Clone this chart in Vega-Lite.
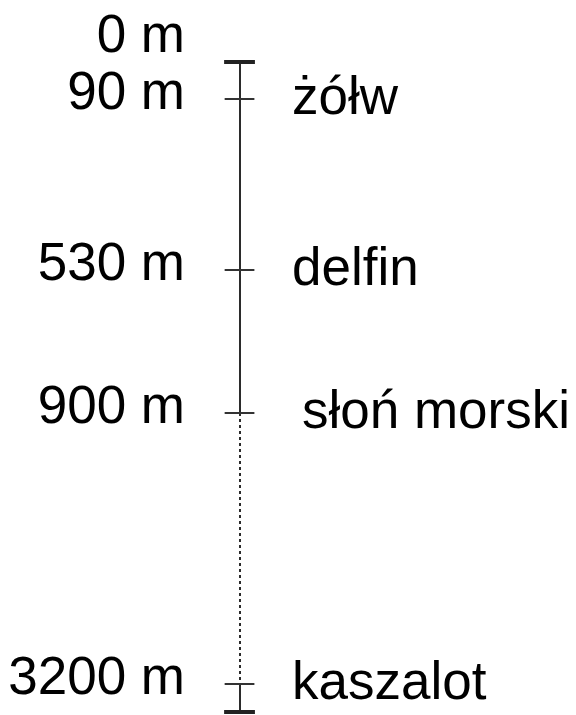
{
  "$schema": "https://vega.github.io/schema/vega-lite/v6.json",
  "width": 576,
  "height": 715,
  "padding": 0,
  "autosize": {"type": "fit", "contains": "padding"},
  "background": "white",
  "config": {"view": {"stroke": null}},
  "data": {
    "values": [
      {"depth": 0, "label": "0 m", "animal": ""},
      {"depth": 90, "label": "90 m", "animal": "żółw"},
      {"depth": 530, "label": "530 m", "animal": "delfin"},
      {"depth": 900, "label": "900 m", "animal": "słoń morski"},
      {"depth": 3200, "label": "3200 m", "animal": "kaszalot"}
    ]
  },
  "encoding": {
    "y": {
      "field": "depth",
      "type": "quantitative",
      "scale": {"domain": [0, 90, 530, 900, 3200, 3400], "range": [62, 99, 270, 413, 684, 712], "nice": false, "zero": false},
      "axis": null
    }
  },
  "layer": [
    {
      "mark": {"type": "rule", "color": "#2b2b2b", "strokeWidth": 2},
      "encoding": {
        "x": {"datum": 0, "type": "quantitative", "scale": {"domain": [-242, 334], "range": [0, 576]}, "axis": null},
        "y": {"datum": 0, "type": "quantitative"},
        "y2": {"datum": 900}
      }
    },
    {
      "mark": {"type": "rule", "color": "#2b2b2b", "strokeWidth": 2, "strokeDash": [3, 3]},
      "encoding": {
        "x": {"datum": 0, "type": "quantitative"},
        "y": {"datum": 900, "type": "quantitative"},
        "y2": {"datum": 3200}
      }
    },
    {
      "mark": {"type": "rule", "color": "#2b2b2b", "strokeWidth": 2},
      "encoding": {
        "x": {"datum": 0, "type": "quantitative"},
        "y": {"datum": 3200, "type": "quantitative"},
        "y2": {"datum": 3400}
      }
    },
    {
      "mark": {"type": "rule", "color": "#222222", "strokeWidth": 4},
      "encoding": {
        "x": {"datum": -16, "type": "quantitative"},
        "x2": {"datum": 15},
        "y": {"datum": 0, "type": "quantitative"}
      }
    },
    {
      "mark": {"type": "rule", "color": "#222222", "strokeWidth": 4},
      "encoding": {
        "x": {"datum": -16, "type": "quantitative"},
        "x2": {"datum": 15},
        "y": {"datum": 3400, "type": "quantitative"}
      }
    },
    {
      "transform": [{"filter": "datum.depth > 0"}],
      "mark": {"type": "rule", "color": "#333333", "strokeWidth": 2},
      "encoding": {
        "x": {"datum": -16, "type": "quantitative"},
        "x2": {"datum": 15}
      }
    },
    {
      "transform": [{"filter": "datum.depth > 0"}],
      "mark": {"type": "text", "align": "right", "baseline": "middle", "dx": -55, "dy": -6, "font": "Liberation Sans", "fontSize": 53, "color": "black"},
      "encoding": {
        "x": {"datum": 0, "type": "quantitative"},
        "text": {"field": "label"}
      }
    },
    {
      "transform": [{"filter": "datum.depth == 0"}],
      "mark": {"type": "text", "align": "right", "baseline": "middle", "dx": -55, "dy": -26, "font": "Liberation Sans", "fontSize": 53, "color": "black"},
      "encoding": {
        "x": {"datum": 0, "type": "quantitative"},
        "text": {"field": "label"}
      }
    },
    {
      "transform": [{"filter": "datum.depth > 0 && datum.depth != 900"}],
      "mark": {"type": "text", "align": "left", "baseline": "middle", "dx": 52, "dy": -1, "font": "Liberation Sans", "fontSize": 53, "color": "black"},
      "encoding": {
        "x": {"datum": 0, "type": "quantitative"},
        "text": {"field": "animal"}
      }
    },
    {
      "transform": [{"filter": "datum.depth == 900"}],
      "mark": {"type": "text", "align": "left", "baseline": "middle", "dx": 62, "dy": -1, "font": "Liberation Sans", "fontSize": 53, "color": "black"},
      "encoding": {
        "x": {"datum": 0, "type": "quantitative"},
        "text": {"field": "animal"}
      }
    }
  ]
}
